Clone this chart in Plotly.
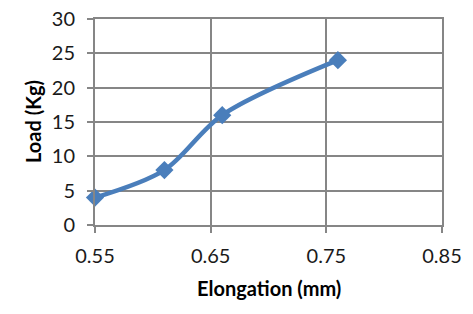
import plotly.graph_objects as go

elongation = [0.55, 0.61, 0.66, 0.76]
load = [4, 8, 16, 24]
x_ticks = [0.55, 0.65, 0.75, 0.85]
y_ticks = [0, 5, 10, 15, 20, 25, 30]

fig = go.Figure()
fig.add_trace(go.Scatter(
    x=elongation, y=load, mode="lines+markers",
    line=dict(color="#4A7EBB", width=4.5, shape="spline", smoothing=0.9),
    marker=dict(symbol="diamond", size=14, color="#4A7EBB"),
    showlegend=False, cliponaxis=False, hoverinfo="skip",
))

grid = "#868686"
W, H = 473, 314
L, R, T, B = 95, 31, 19, 89
fig.update_layout(
    width=W, height=H,
    margin=dict(l=L, r=R, t=T, b=B, autoexpand=False),
    paper_bgcolor="white", plot_bgcolor="white",
    font=dict(family="Lato, Open Sans, sans-serif", color="#000000"),
)
fig.update_xaxes(
    range=[0.55, 0.85], tickvals=x_ticks, ticktext=[f"{v:.2f}" for v in x_ticks],
    showgrid=True, gridcolor=grid, gridwidth=2,
    showline=True, linecolor=grid, linewidth=2, mirror=True,
    ticks="outside", ticklen=6, tickcolor=grid, tickwidth=2,
    tickfont=dict(size=20, color="#1a1a1a"), zeroline=False, automargin=False,
    ticklabelstandoff=6,
)
fig.update_yaxes(
    range=[0, 30], tickvals=y_ticks,
    showgrid=True, gridcolor=grid, gridwidth=2,
    showline=True, linecolor=grid, linewidth=2, mirror=True,
    ticks="outside", ticklen=6, tickcolor=grid, tickwidth=2,
    tickfont=dict(size=20, color="#1a1a1a"), zeroline=False, automargin=False,
    ticklabelstandoff=8,
)
fig.add_annotation(
    text="<b>Elongation (mm)</b>", xref="paper", yref="paper",
    x=0.5, y=-(288 - (H - B)) / (H - T - B), xanchor="center", yanchor="middle",
    showarrow=False, font=dict(size=20),
)
fig.add_annotation(
    text="<b>Load (Kg)</b>", xref="paper", yref="paper",
    x=-(L - 33) / (W - L - R), y=0.5, xanchor="center", yanchor="middle",
    textangle=-90, showarrow=False, font=dict(size=20),
)
fig.write_html(
    "out.html",
    config={"displayModeBar": False, "staticPlot": True},
    post_script="document.body.style.margin='0';document.body.style.overflow='hidden';",
)
